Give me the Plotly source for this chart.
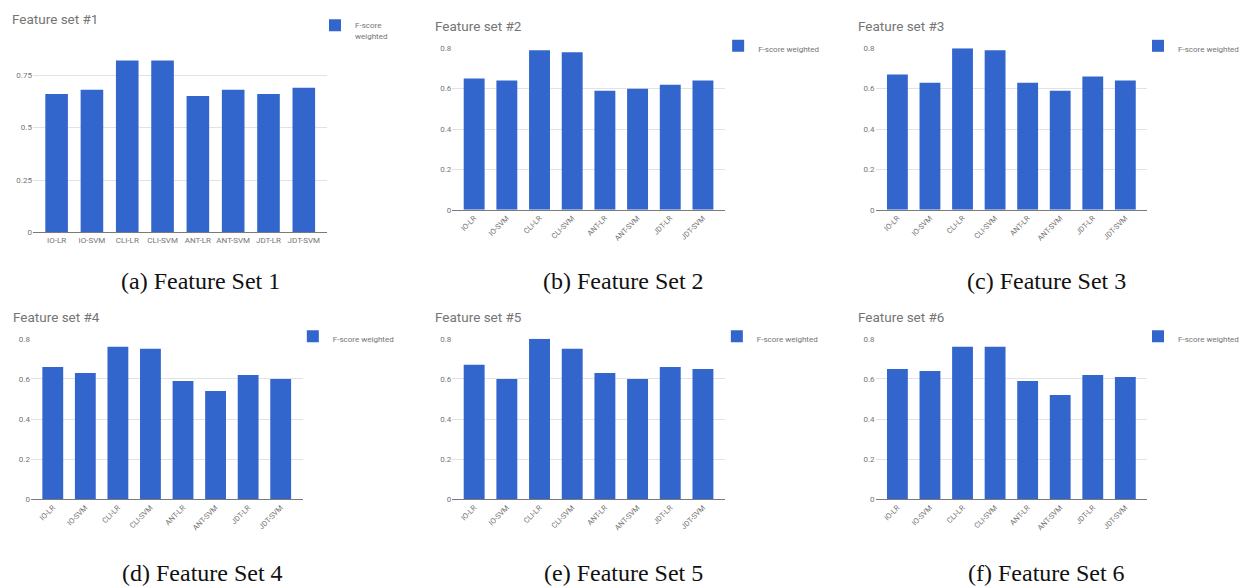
import plotly.graph_objects as go

# ---------------- data ----------------
categories = ["IO-LR", "IO-SVM", "CLI-LR", "CLI-SVM", "ANT-LR", "ANT-SVM", "JDT-LR", "JDT-SVM"]
fs1 = [0.66, 0.68, 0.82, 0.82, 0.65, 0.68, 0.66, 0.69]
fs2 = [0.65, 0.64, 0.79, 0.78, 0.59, 0.60, 0.62, 0.64]
fs3 = [0.67, 0.63, 0.80, 0.79, 0.63, 0.59, 0.66, 0.64]
fs4 = [0.66, 0.63, 0.76, 0.75, 0.59, 0.54, 0.62, 0.60]
fs5 = [0.67, 0.60, 0.80, 0.75, 0.63, 0.60, 0.66, 0.65]
fs6 = [0.65, 0.64, 0.76, 0.76, 0.59, 0.52, 0.62, 0.61]
titles = ["Feature set #1", "Feature set #2", "Feature set #3",
          "Feature set #4", "Feature set #5", "Feature set #6"]
captions = ["(a) Feature Set 1", "(b) Feature Set 2", "(c) Feature Set 3",
            "(d) Feature Set 4", "(e) Feature Set 5", "(f) Feature Set 6"]
series_names = ["F-score<br>weighted", "F-score weighted", "F-score weighted",
                "F-score weighted", "F-score weighted", "F-score weighted"]
yticks_a = [0, 0.25, 0.5, 0.75, 1]
yticklabels_a = ["0", "0.25", "0.5", "0.75", ""]
yticks_b = [0, 0.2, 0.4, 0.6, 0.8]
yticklabels_b = ["0", "0.2", "0.4", "0.6", "0.8"]

values = [fs1, fs2, fs3, fs4, fs5, fs6]

# ---------------- layout geometry (window pixels) ----------------
W, H = 1244, 587
def px(x):
    return x / W
def py(y):
    return 1 - y / H

# plot area: (left, right, top gridline, zero line)
areas = [
    (33, 328, 19, 232),
    (453, 726, 45, 209),
    (877, 1149, 45, 209),
    (31, 303, 340, 503),
    (453, 726, 340, 503),
    (877, 1149, 340, 503),
]
title_pos = [(10, 15), (434, 22), (857, 22), (11, 318), (434, 318), (857, 318)]
legend_sym = [(342.5, 24.7), (746.3, 45.3), (1167, 45.3),
              (320.3, 340.3), (745, 340.3), (1167, 340.3)]
caption_pos = [(201, 281), (625, 281), (1048, 281), (203, 578), (625, 578), (1048, 578)]

BLUE = "#3366cc"
GRAY = "#757575"
GRID = "#e2e2e2"
FONT = "Roboto"

fig = go.Figure()
layout = dict(
    width=W, height=H,
    margin=dict(l=0, r=0, t=0, b=0),
    paper_bgcolor="white", plot_bgcolor="white",
    bargap=0.36,
    font=dict(family=FONT, color=GRAY, size=8),
    annotations=[],
)

for i in range(6):
    n = "" if i == 0 else str(i + 1)
    xa = "x" + n
    ya = "y" + n
    lg = "legend" + n
    fig.add_trace(go.Bar(
        x=categories, y=values[i], name=series_names[i],
        marker=dict(color=BLUE, line=dict(width=0)),
        xaxis=xa, yaxis=ya, legend=lg, showlegend=True,
    ))
    l, r, t, b = areas[i]
    if i == 0:
        yr, tv, tt = [0, 1], yticks_a, yticklabels_a
        tickangle, xfs = 0, 8
    else:
        yr, tv, tt = [0, 0.8], yticks_b, yticklabels_b
        tickangle, xfs = -45, 7.5
    layout["xaxis" + n] = dict(
        domain=[px(l), px(r)], anchor=ya,
        range=[-0.67, 7.67], type="category",
        showgrid=False, showline=True, linecolor="#7a7a7a", linewidth=1.3,
        ticks="", tickangle=tickangle, tickfont=dict(size=xfs, color=GRAY, family=FONT),
        fixedrange=True,
    )
    layout["yaxis" + n] = dict(
        domain=[py(b), py(t)], anchor=xa,
        range=yr, tickvals=tv, ticktext=tt,
        showgrid=True, gridcolor=GRID, gridwidth=1, zeroline=False,
        showline=False, ticks="", tickfont=dict(size=8, color=GRAY, family=FONT),
        fixedrange=True,
    )
    sx, sy = legend_sym[i]
    if i == 0:
        ly, yanc = py(sy - 15), "top"
    else:
        ly, yanc = py(sy), "middle"
    layout[lg] = dict(
        x=px(sx - 27), y=ly, xanchor="left", yanchor=yanc,
        bgcolor="rgba(0,0,0,0)", borderwidth=0,
        font=dict(size=8, color=GRAY, family=FONT),
        itemwidth=30, valign="top",
        itemclick=False, itemdoubleclick=False,
    )
    tx, ty = title_pos[i]
    layout["annotations"].append(dict(
        text=titles[i], x=px(tx), y=py(ty), xref="paper", yref="paper",
        xanchor="left", yanchor="middle", showarrow=False,
        font=dict(family=FONT, size=13.5, color=GRAY), bgcolor="white",
    ))
    cx, cy = caption_pos[i]
    layout["annotations"].append(dict(
        text=captions[i], x=px(cx), y=py(cy), xref="paper", yref="paper",
        xanchor="center", yanchor="middle", showarrow=False,
        font=dict(family="Liberation Serif", size=24, color="#111111"),
    ))

fig.update_layout(**layout)
# remove the default page margin so the figure fills the window exactly
fig.write_html(
    "out.html",
    config={"displayModeBar": False},
    post_script="document.body.style.margin='0';document.body.style.overflow='hidden';",
)
